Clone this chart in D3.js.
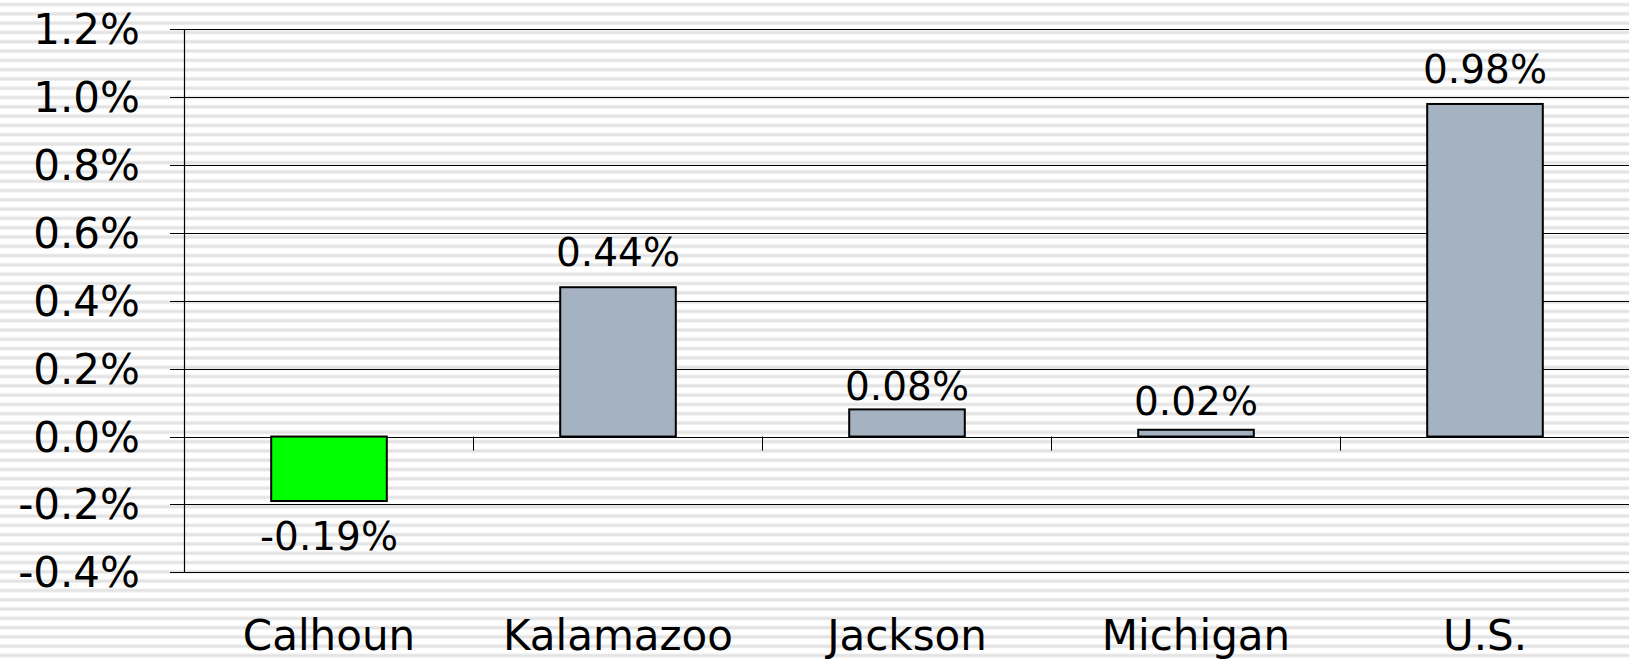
<!DOCTYPE html>
<html>
<head>
<meta charset="utf-8">
<script src="https://cdn.jsdelivr.net/npm/d3@7"></script>
<style>
  html, body { margin: 0; padding: 0; background: #fff; }
  svg { display: block; font-family: "DejaVu Sans", Verdana, sans-serif; }
</style>
</head>
<body>
<svg id="chart" width="1629" height="661"></svg>
<script>
// data
var categories = ['Calhoun', 'Kalamazoo', 'Jackson', 'Michigan', 'U.S.'];
var values = [-0.19, 0.44, 0.08, 0.02, 0.98];
var barColors = ['#00ff00', '#a4b2c1', '#a4b2c1', '#a4b2c1', '#a4b2c1'];
var yTicks = [-0.4, -0.2, 0.0, 0.2, 0.4, 0.6, 0.8, 1.0, 1.2];

// label gap from bar end (labels were nudged by hand in the original)
var labelGap = [49, 21, 9.5, 15, 21];

var width = 1629, height = 661,
	plotLeft = 184.5, plotRight = 1629.5, plotTop = 29.3, plotBottom = 572.3;

var svg = d3.select('#chart');
var locale = d3.formatLocale({decimal: '.', thousands: ',', grouping: [3], currency: ['', ''], minus: '-'});

// striped background
var defs = svg.append('defs');
var pat = defs.append('pattern')
	.attr('id', 'stripes')
	.attr('patternUnits', 'userSpaceOnUse')
	.attr('width', 20)
	.attr('height', 9.3);
pat.append('rect').attr('width', 20).attr('height', 9.3).attr('fill', '#ffffff');
pat.append('rect').attr('y', 2.5).attr('width', 20).attr('height', 4).attr('fill', '#f0f0f0');
pat.append('rect').attr('y', 3.3).attr('width', 20).attr('height', 2.4).attr('fill', '#e3e3e3');

svg.append('rect')
	.attr('width', width)
	.attr('height', height)
	.attr('fill', 'url(#stripes)');

var y = d3.scaleLinear().domain([-0.4, 1.2]).range([plotBottom, plotTop]);
var x = d3.scaleBand().domain(categories).range([plotLeft, plotRight])
	.paddingInner(0.6).paddingOuter(0.3);

var fmtTick = function(d) { return locale.format('.1f')(d) + '%'; };
var fmtVal = function(d) { return locale.format('.2f')(d) + '%'; };

// gridlines + y tick labels
var grid = svg.append('g');
grid.selectAll('line')
	.data(yTicks)
	.enter().append('line')
	.attr('x1', 170)
	.attr('x2', width)
	.attr('y1', function(d) { return Math.round(y(d)) + 0.5; })
	.attr('y2', function(d) { return Math.round(y(d)) + 0.5; })
	.attr('stroke', '#000')
	.attr('stroke-width', 1);

grid.selectAll('text')
	.data(yTicks)
	.enter().append('text')
	.attr('x', 140)
	.attr('y', function(d) { return y(d) + 15; })
	.attr('text-anchor', 'end')
	.attr('font-size', 42)
	.attr('fill', '#000')
	.text(fmtTick);

// y axis line
svg.append('line')
	.attr('x1', plotLeft).attr('x2', plotLeft)
	.attr('y1', Math.round(y(1.2)) + 0.5)
	.attr('y2', Math.round(y(-0.4)) + 0.5)
	.attr('stroke', '#000')
	.attr('stroke-width', 1.2);

// category ticks on zero line
var boundaries = categories.slice(1).map(function(c) {
	return x(c) - x.step() * x.paddingInner() / 2;
});
svg.append('g').selectAll('line')
	.data(boundaries)
	.enter().append('line')
	.attr('x1', function(d) { return Math.round(d) + 0.5; })
	.attr('x2', function(d) { return Math.round(d) + 0.5; })
	.attr('y1', y(0))
	.attr('y2', y(0) + 14)
	.attr('stroke', '#000')
	.attr('stroke-width', 1);

// bars
svg.append('g').selectAll('rect')
	.data(values)
	.enter().append('rect')
	.attr('x', function(d, i) { return x(categories[i]); })
	.attr('y', function(d) { return y(Math.max(0, d)); })
	.attr('width', x.bandwidth())
	.attr('height', function(d) { return Math.abs(y(d) - y(0)); })
	.attr('fill', function(d, i) { return barColors[i]; })
	.attr('stroke', '#000')
	.attr('stroke-width', 2);

// value labels
svg.append('g').selectAll('text')
	.data(values)
	.enter().append('text')
	.attr('x', function(d, i) { return x(categories[i]) + x.bandwidth() / 2; })
	.attr('y', function(d, i) {
		return d >= 0 ? y(d) - labelGap[i] : y(d) + labelGap[i];
	})
	.attr('text-anchor', 'middle')
	.attr('font-size', 39)
	.attr('fill', '#000')
	.text(fmtVal);

// category labels
svg.append('g').selectAll('text')
	.data(categories)
	.enter().append('text')
	.attr('x', function(d) { return x(d) + x.bandwidth() / 2; })
	.attr('y', 650)
	.attr('text-anchor', 'middle')
	.attr('font-size', 42)
	.attr('fill', '#000')
	.text(function(d) { return d; });
</script>
</body>
</html>
